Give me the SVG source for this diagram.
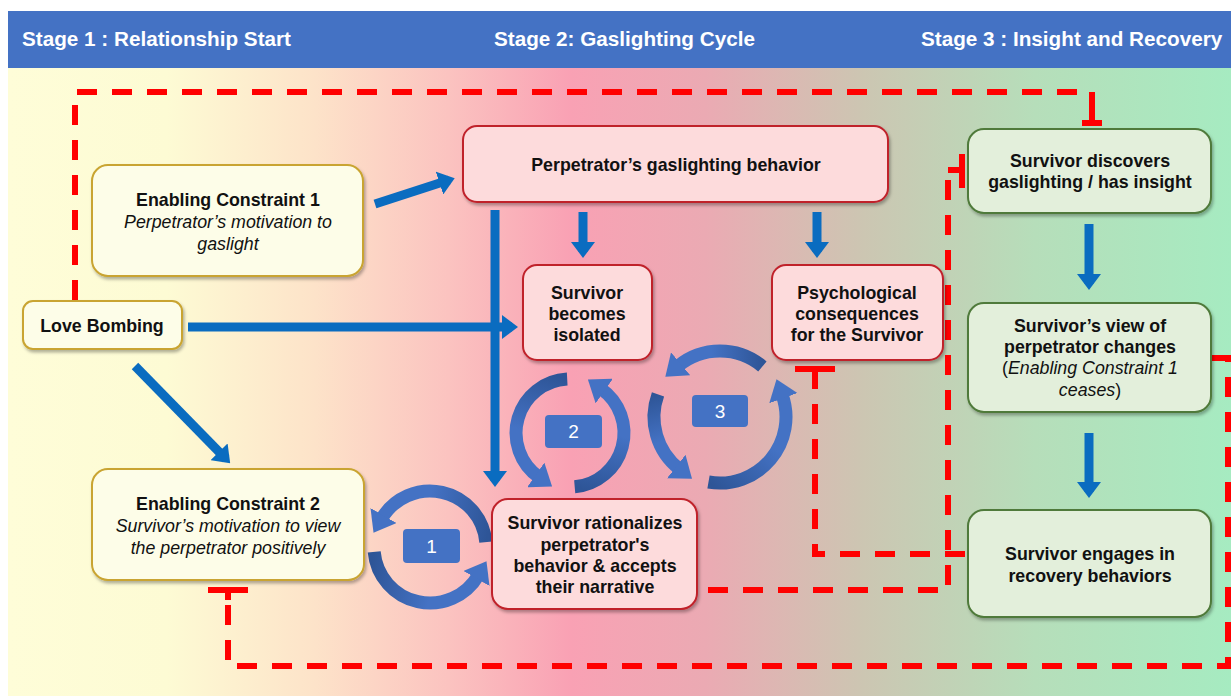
<svg xmlns="http://www.w3.org/2000/svg" width="1231" height="696" viewBox="0 0 1231 696">
<defs>
<linearGradient id="bg" x1="8" y1="0" x2="1231" y2="0" gradientUnits="userSpaceOnUse">
<stop offset="0" stop-color="#FEFDD8"/>
<stop offset="0.13" stop-color="#FDFBD4"/>
<stop offset="0.25" stop-color="#FDE3C9"/>
<stop offset="0.36" stop-color="#FBC3C0"/>
<stop offset="0.46" stop-color="#F9A1B4"/>
<stop offset="0.57" stop-color="#EBAAB3"/>
<stop offset="0.70" stop-color="#CCC6B2"/>
<stop offset="0.84" stop-color="#B6DEBA"/>
<stop offset="1" stop-color="#A6EBC1"/>
</linearGradient>
<linearGradient id="g1a" gradientUnits="userSpaceOnUse" x1="485.8" y1="542.1" x2="381.5" y2="519"><stop offset="0" stop-color="#2E5597"/><stop offset="0.6" stop-color="#4472C4"/></linearGradient>
<linearGradient id="g1b" gradientUnits="userSpaceOnUse" x1="374.2" y1="551.9" x2="478.5" y2="575"><stop offset="0" stop-color="#2E5597"/><stop offset="0.6" stop-color="#4472C4"/></linearGradient>
<linearGradient id="g2a" gradientUnits="userSpaceOnUse" x1="567.2" y1="379.1" x2="539" y2="477.2"><stop offset="0" stop-color="#2E5597"/><stop offset="0.6" stop-color="#4472C4"/></linearGradient>
<linearGradient id="g2b" gradientUnits="userSpaceOnUse" x1="574.7" y1="486.8" x2="601" y2="388.8"><stop offset="0" stop-color="#2E5597"/><stop offset="0.6" stop-color="#4472C4"/></linearGradient>
<linearGradient id="g3a" gradientUnits="userSpaceOnUse" x1="762.4" y1="366.4" x2="677.6" y2="366.4"><stop offset="0" stop-color="#2E5597"/><stop offset="0.6" stop-color="#4472C4"/></linearGradient>
<linearGradient id="g3b" gradientUnits="userSpaceOnUse" x1="658" y1="394.4" x2="679.4" y2="469"><stop offset="0" stop-color="#2E5597"/><stop offset="0.6" stop-color="#4472C4"/></linearGradient>
<linearGradient id="g3c" gradientUnits="userSpaceOnUse" x1="708.5" y1="482" x2="782" y2="394.4"><stop offset="0" stop-color="#2E5597"/><stop offset="0.6" stop-color="#4472C4"/></linearGradient>
<filter id="sh" x="-10%" y="-10%" width="125%" height="130%">
<feDropShadow dx="1.5" dy="2.5" stdDeviation="1.8" flood-color="#000" flood-opacity="0.3"/>
</filter>
<marker id="ah" viewBox="0 0 16 24" refX="10" refY="12" markerWidth="16" markerHeight="24" markerUnits="userSpaceOnUse" orient="auto">
<path d="M0,0 L16,12 L0,24 z" fill="#0A6CC0"/>
</marker>
<marker id="ch" viewBox="0 0 20 30" refX="4" refY="15" markerWidth="20" markerHeight="30" markerUnits="userSpaceOnUse" orient="auto">
<path d="M0,0 L20,15 L0,30 z" fill="#4472C4"/>
</marker>
<style>
.yb{fill:#FDFDE8;stroke:#C9A430;stroke-width:2;filter:url(#sh)}
.pb{fill:#FDDBDC;stroke:#C0212B;stroke-width:2;filter:url(#sh)}
.gb{fill:#E3EFDB;stroke:#4F7A3A;stroke-width:2;filter:url(#sh)}
text{font-family:"Liberation Sans",Arial,sans-serif;fill:#111}
.b{font-weight:bold;font-size:17.8px;text-anchor:middle}
.i{font-style:italic;font-size:17.8px;text-anchor:middle}
.n{font-size:17.8px;text-anchor:middle}
.h{font-weight:bold;font-size:20.7px;fill:#fff}
.ar{stroke:#0A6CC0;stroke-width:9;fill:none;marker-end:url(#ah)}
.cy{stroke-width:13;fill:none;marker-end:url(#ch)}
.dl{stroke:#FF0000;stroke-width:6;fill:none;stroke-dasharray:20 15}
.sl{stroke:#FF0000;stroke-width:6;fill:none}
.lb{fill:#4472C4}
.lt{fill:#fff;font-size:19px;text-anchor:middle}
</style>
</defs>
<rect x="0" y="0" width="1231" height="696" fill="#fff"/>
<rect x="8" y="68" width="1223" height="628" fill="url(#bg)"/>
<g id="header">
<rect x="8" y="11" width="1223" height="57" fill="#4472C4"/>
<text class="h" x="22" y="46">Stage 1 : Relationship Start</text>
<text class="h" x="494" y="46">Stage 2: Gaslighting Cycle</text>
<text class="h" x="921" y="46">Stage 3 : Insight and Recovery</text>
</g>
<g id="connectors">
<path class="dl" d="M75,300 L75,92 L1092,92"/>
<path class="sl" d="M1092,92 L1092,123 M1082,123 L1102,123"/>
<path class="dl" d="M708,590 L948,590 L948,168"/>
<path class="sl" d="M948,170 L962,170 M962,154 L962,188"/>
<path class="dl" d="M965,554 L815,554 L815,372"/>
<path class="sl" d="M795,369 L835,369"/>
<path class="dl" d="M1212,358 L1228,358 L1228,666 L228,666 L228,592"/>
<path class="sl" d="M208,590 L248,590 M228,590 L228,600"/>
<line class="ar" x1="375" y1="204" x2="449" y2="180"/>
<line class="ar" x1="188" y1="327" x2="512" y2="327"/>
<line class="ar" x1="135" y1="366" x2="226" y2="459"/>
<line class="ar" x1="583" y1="212" x2="583" y2="252"/>
<line class="ar" x1="817" y1="212" x2="817" y2="252"/>
<line class="ar" x1="495" y1="210" x2="495" y2="481"/>
<line class="ar" x1="1089" y1="224" x2="1089" y2="284"/>
<line class="ar" x1="1089" y1="433" x2="1089" y2="492"/>
</g>
<g id="cycle1">
<path class="cy" stroke="url(#g1a)" d="M485.8,542.1 A56,56 0 0 0 381.5,519"/>
<path class="cy" stroke="url(#g1b)" d="M374.2,551.9 A56,56 0 0 0 478.5,575"/>
<rect class="lb" x="403" y="529" width="57" height="34" rx="4"/>
<text class="lt" x="431.5" y="553">1</text>
</g>
<g id="cycle2">
<path class="cy" stroke="url(#g2a)" d="M567.2,379.1 A54,54 0 0 0 539,477.2"/>
<path class="cy" stroke="url(#g2b)" d="M574.7,486.8 A54,54 0 0 0 601,388.8"/>
<rect class="lb" x="545" y="415" width="57" height="33" rx="4"/>
<text class="lt" x="573.5" y="438">2</text>
</g>
<g id="cycle3">
<path class="cy" stroke="url(#g3a)" d="M762.4,366.4 A66,66 0 0 0 677.6,366.4"/>
<path class="cy" stroke="url(#g3b)" d="M658,394.4 A66,66 0 0 0 679.4,469"/>
<path class="cy" stroke="url(#g3c)" d="M708.5,482 A66,66 0 0 0 782,394.4"/>
<rect class="lb" x="692" y="395" width="56" height="32" rx="4"/>
<text class="lt" x="720" y="418">3</text>
</g>
<g id="ec1">
<rect class="yb" x="92" y="165" width="271" height="111" rx="16"/>
<text class="b" x="228" y="206">Enabling Constraint 1</text>
<text class="i" x="228" y="228">Perpetrator’s motivation to</text>
<text class="i" x="228" y="250">gaslight</text>
</g>
<g id="lovebombing">
<rect class="yb" x="23" y="301" width="159" height="48" rx="10"/>
<text class="b" x="102" y="332">Love Bombing</text>
</g>
<g id="ec2">
<rect class="yb" x="92" y="469" width="272" height="111" rx="16"/>
<text class="b" x="228" y="510">Enabling Constraint 2</text>
<text class="i" x="228" y="532">Survivor’s motivation to view</text>
<text class="i" x="228" y="554">the perpetrator positively</text>
</g>
<g id="perp">
<rect class="pb" x="463" y="126" width="425" height="76" rx="14"/>
<text class="b" x="676" y="171">Perpetrator’s gaslighting behavior</text>
</g>
<g id="isolated">
<rect class="pb" x="523" y="265" width="129" height="95" rx="14"/>
<text class="b" x="587" y="299">Survivor</text>
<text class="b" x="587" y="320">becomes</text>
<text class="b" x="587" y="341">isolated</text>
</g>
<g id="psych">
<rect class="pb" x="772" y="265" width="171" height="95" rx="14"/>
<text class="b" x="857" y="299">Psychological</text>
<text class="b" x="857" y="320">consequences</text>
<text class="b" x="857" y="341">for the Survivor</text>
</g>
<g id="rationalizes">
<rect class="pb" x="492" y="499" width="205" height="110" rx="16"/>
<text class="b" x="595" y="529">Survivor rationalizes</text>
<text class="b" x="595" y="551">perpetrator's</text>
<text class="b" x="595" y="572">behavior &amp; accepts</text>
<text class="b" x="595" y="593">their narrative</text>
</g>
<g id="discovers">
<rect class="gb" x="968" y="129" width="243" height="84" rx="16"/>
<text class="b" x="1090" y="167">Survivor discovers</text>
<text class="b" x="1090" y="188">gaslighting / has insight</text>
</g>
<g id="view">
<rect class="gb" x="968" y="303" width="243" height="109" rx="16"/>
<text class="b" x="1090" y="332">Survivor’s view of</text>
<text class="b" x="1090" y="353">perpetrator changes</text>
<text class="n" x="1090" y="374">(<tspan font-style="italic">Enabling Constraint 1</tspan></text>
<text class="n" x="1090" y="396"><tspan font-style="italic">ceases</tspan>)</text>
</g>
<g id="engages">
<rect class="gb" x="968" y="510" width="243" height="107" rx="16"/>
<text class="b" x="1090" y="560">Survivor engages in</text>
<text class="b" x="1090" y="582">recovery behaviors</text>
</g>
</svg>
